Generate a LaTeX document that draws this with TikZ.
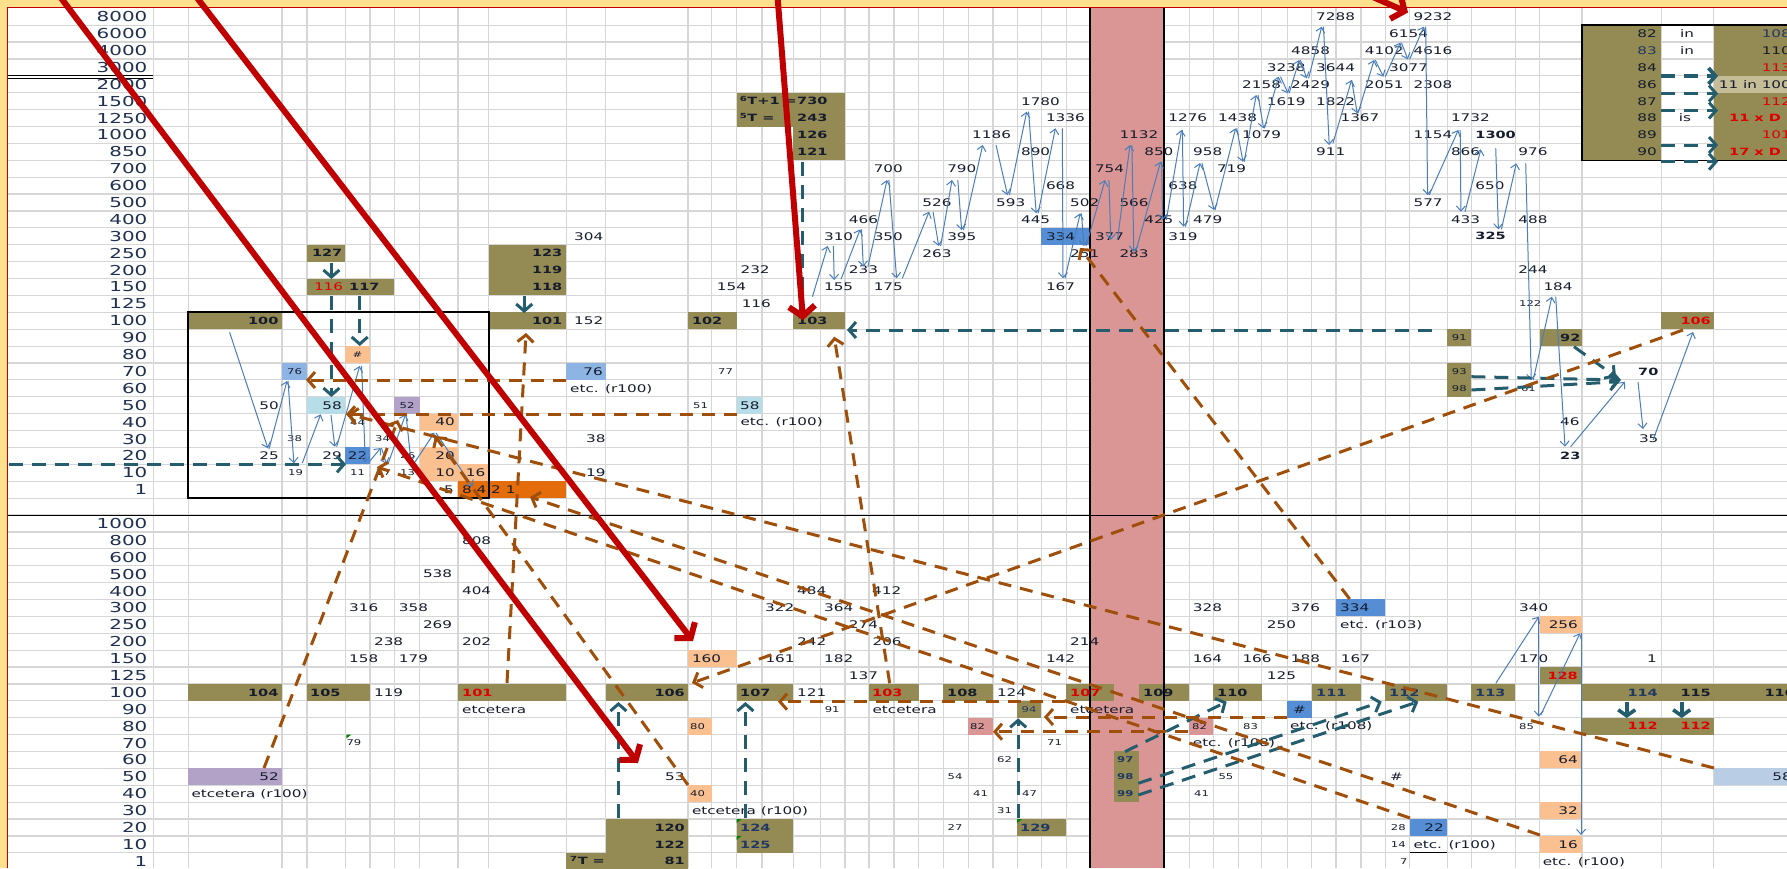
\documentclass[tikz,border=0pt]{standalone}
\usepackage{fontspec}
\setmainfont{DejaVu Sans}[FakeStretch=1.45]
\usetikzlibrary{arrows.meta}
\definecolor{cOl}{HTML}{948A54}
\definecolor{cLO}{HTML}{FAC090}
\definecolor{cLB}{HTML}{B7DEE8}
\definecolor{cMB}{HTML}{8DB4E2}
\definecolor{cSB}{HTML}{558ED5}
\definecolor{cPu}{HTML}{B3A2C7}
\definecolor{cDO}{HTML}{E46C0A}
\definecolor{cPk}{HTML}{DA9694}
\definecolor{cSt}{HTML}{B9CDE5}
\definecolor{cTan}{HTML}{C4BD97}
\definecolor{cGrid}{HTML}{D6D6D6}
\definecolor{cTxt}{HTML}{151C2C}
\definecolor{cLab}{HTML}{1F3050}
\definecolor{cRedT}{HTML}{E00000}
\definecolor{cNavy}{HTML}{1F3864}
\definecolor{cTeal}{HTML}{245D6E}
\definecolor{cBrown}{HTML}{A04F0A}
\definecolor{cBig}{HTML}{C00000}
\definecolor{cBlue}{HTML}{4A7EBB}
\definecolor{cYel}{HTML}{FFE08C}
\definecolor{cGreen}{HTML}{008000}
\newcommand\yC[1]{(16.75+16.89*(#1))}
\newcommand\yT[1]{(8.3+16.89*(#1))}
\tikzset{
  num/.style={font=\fontsize{10.5}{12}\selectfont, text=cTxt, inner sep=0pt, text height=7.6pt, text depth=0pt, anchor=west},
  numr/.style={num, anchor=east},
  numc/.style={num, anchor=center},
  sm/.style={num, font=\fontsize{8}{9}\selectfont, text height=5.8pt},
  smc/.style={sm, anchor=center},
  bld/.style={num, font=\fontsize{10}{12}\selectfont\bfseries, text height=7.3pt},
  bldr/.style={bld, anchor=east},
  lab/.style={num, font=\fontsize{13.7}{15}\selectfont, text height=10pt, anchor=east, text=cLab},
  bluearr/.style={draw=cBlue, line width=1pt, -{Straight Barb[length=5pt,width=9pt]}},
  tealarr/.style={draw=cTeal, line width=3pt, dash pattern=on 14pt off 9pt, -{Straight Barb[length=7pt,width=16pt]}},
  tealthick/.style={draw=cTeal, line width=3.6pt, -{Straight Barb[length=6pt,width=17pt]}},
  brownarr/.style={draw=cBrown, line width=3pt, dash pattern=on 13pt off 9pt, -{Straight Barb[length=7pt,width=16pt]}},
  bigarr/.style={draw=cBig, line width=6pt, -{Straight Barb[length=10pt,width=26pt]}},
}
\begin{document}
\begin{tikzpicture}[x=1pt,y=-1pt]
\useasboundingbox (0,0) rectangle (1787,868);
\clip (0,0) rectangle (1787,868);
\fill[white] (0,0) rectangle (1787,868);
% grid
\foreach \xx in {153.1,188.3,282,306.9,345.2,370,394.1,419.8,458.0,488.6,566.3,605.7,688,711.7,736.6,761.9,793.2,820.8,844.9,869,893.9,918.8,943.2,968.1,993,1017.1,1041.2,1066.1,1189.3,1213.1,1238.2,1261.8,1287.2,1311.6,1335.9,1361,1385.3,1409.6,1447.1,1471.4,1515.2,1539.5,1581.9,1661.2,1713.6}
  \draw[cGrid, line width=1.2pt] (\xx,8) -- (\xx,868);
\foreach \yy in {1,...,51}
  \draw[cGrid, line width=1.2pt] (8,{\yT{\yy}}) -- (1787,{\yT{\yy}});
% pink band
\fill[cPk] (1089.8,8) rectangle (1163.7,868);
% cells
\foreach \xa/\xb/\ra/\rb/\cc in {
306.9/345.2/14/15/cOl, 306.9/394.1/16/17/cOl, 488.6/566.3/14/17/cOl, 188.3/282/18/19/cOl, 488.6/566.3/18/19/cOl,
345.2/370/20/21/cLO, 282/306.9/21/22/cMB, 306.9/345.2/23/24/cLB, 394.1/419.8/23/24/cPu, 419.8/458/24/25/cLO,
345.2/370/26/27/cSB, 419.8/458/26/27/cLO, 419.8/458/27/28/cLO, 458/488.6/27/28/cLO, 458/566.3/28/29/cDO,
566.3/605.7/21/22/cMB, 688/736.6/18/19/cOl, 793.2/844.9/18/19/cOl, 736.6/844.9/5/7/cOl, 793.2/844.9/7/9/cOl,
736.6/761.9/23/24/cLB, 1041.2/1089.8/13/14/cSB, 1447.1/1471.4/19/20/cOl, 1447.1/1471.4/21/23/cOl,
1539.5/1581.9/19/20/cOl, 1661.2/1713.6/18/19/cOl, 1581.9/1661.2/1/9/cOl, 1713.6/1800/1/9/cOl, 1713.6/1800/4/5/cTan,
188.3/282/40/41/cOl, 306.9/370/40/41/cOl, 458/566.3/40/41/cOl, 188.3/282/45/46/cPu, 605.7/688/40/41/cOl,
688/736.6/38/39/cLO, 688/711.7/42/43/cLO, 688/711.7/46/47/cLO, 736.6/793.2/40/41/cOl, 869/918.8/40/41/cOl,
943.2/993/40/41/cOl, 1017.1/1041.2/41/42/cOl, 968.1/993/42/43/cPk, 1017.1/1066.1/48/49/cOl, 605.7/688/48/50/cOl,
566.3/688/50/52/cOl, 736.6/793.2/48/50/cOl, 1066.1/1113.5/40/41/cOl, 1139.3/1189.3/40/41/cOl, 1114/1139.3/44/47/cOl,
1189.3/1213.1/42/43/cPk, 1213.1/1261.8/40/41/cOl, 1287.2/1311.6/41/42/cSB, 1311.6/1361/40/41/cOl, 1385.3/1447.1/40/41/cOl,
1335.9/1385.3/35/36/cSB, 1409.6/1447.1/48/49/cSB, 1471.4/1515.2/40/41/cOl, 1539.5/1581.9/36/37/cLO, 1539.5/1581.9/39/40/cOl,
1539.5/1581.9/44/45/cLO, 1539.5/1581.9/47/48/cLO, 1539.5/1581.9/49/50/cLO, 1581.9/1800/40/41/cOl, 1581.9/1713.6/42/43/cOl,
1713.6/1800/45/46/cSt}
  \fill[fill=\cc] (\xa,{\yT{\ra}}) rectangle (\xb,{\yT{\rb}});
% black lines
\draw[black, line width=2pt] (1089.8,8) -- (1089.8,868) (1163.7,8) -- (1163.7,868);
\draw[black, line width=2pt] (188.3,{\yT{18}}) rectangle (488.6,{\yT{29}});
\draw[black, line width=1.5pt] (1581.9,{\yT{1}}) rectangle (1800,{\yT{9}});
\draw[black, line width=1pt] (8,515) -- (1787,515);
\draw[black, line width=0.9pt] (8,75.8) -- (153.1,75.8) (8,78.2) -- (153.1,78.2);
\draw[black, line width=1pt] (1409.6,{\yT{50}}) -- (1447.1,{\yT{50}});
% comment markers
\foreach \xx/\yy in {346.3/43, 736.6/48, 736.6/49, 1017.1/48}
  \fill[cGreen] (\xx,{\yT{\yy}}) -- ++(5,0) -- ++(-5,4) -- cycle;
% border
\fill[cYel] (0,0) rectangle (1787,6.5);
\fill[cYel] (0,0) rectangle (6.5,868);
\draw[cBig, line width=1.6pt] (7.3,868) -- (7.3,7.3) -- (1787,7.3);
% row labels
\foreach \tx [count=\i from 0] in {8000,6000,4000,3000,2000,1500,1250,1000,850,700,600,500,400,300,250,200,150,125,100,90,80,70,60,50,40,30,20,10,1}
  \node[lab] (lu\i) at (147.5,{\yC{\i}}) {\tx};
\foreach \tx [count=\i from 30] in {1000,800,600,500,400,300,250,200,150,125,100,90,80,70,60,50,40,30,20,10,1}
  \node[lab] (ll\i) at (147.5,{\yC{\i}}) {\tx};
% normal texts, left aligned
\foreach \xx/\yy/\tx [count=\i] in {
823.9/16/155, 873.6/16/175, 1045.8/16/167, 848.7/15/233, 922.2/14/263, 1070/14/251, 1119.3/14/283, 823.9/13/310, 873.6/13/350, 947.1/13/395, 1094.8/13/377, 1168.2/13/319, 848.7/12/466, 1020.9/12/445, 1144.1/12/425, 1193/12/479, 1450.8/12/433, 1518.2/12/488, 922.2/11/526, 996/11/593, 1070/11/502, 1119.3/11/566, 1413.4/11/577, 1045.8/10/668, 1168.2/10/638, 1475.2/10/650, 873.6/9/700, 947.1/9/790, 1094.8/9/754, 1216.8/9/719, 1020.9/8/890, 1144.1/8/850, 1193/8/958, 1316/8/911, 1450.8/8/866, 1518.2/8/976, 972/7/1186, 1119.3/7/1132, 1242/7/1079, 1413.4/7/1154, 1045.8/6/1336, 1168.2/6/1276, 1218/6/1438, 1340.4/6/1367, 1450.8/6/1732, 1020.9/5/1780, 1266.6/5/1619, 1316/5/1822, 1242/4/2158, 1291/4/2429, 1364.7/4/2051, 1413.4/4/2308, 1266.6/3/3238, 1316/3/3644, 1389/3/3077, 1291/2/4858, 1364.7/2/4102, 1413.4/2/4616, 1389/1/6154, 1316/0/7288, 1413.4/0/9232, 1518.2/15/244, 1543.3/16/184, 1560/24/46, 1638.8/25/35, 574/13/304, 574/18/152, 586/25/38, 586/27/19, 740.4/15/232, 716.7/16/154, 741.6/17/116, 570/22/etc. (r100), 740.4/24/etc. (r100), 740/23/58, 1045.8/13/334, 462/28/8 4 2 1,
461.9/31/808, 422.8/33/538, 461.9/34/404, 349/35/316, 398.7/35/358, 422.8/36/269, 373.9/37/238, 461.9/37/202, 349/38/158, 398.7/38/179, 373.9/40/119, 462/41/etcetera, 191.3/46/etcetera (r100), 665/45/53, 691.8/47/etcetera (r100), 797/34/484, 872/34/412, 765/35/322, 824/35/364, 848.7/36/274, 797/37/242, 872.4/37/206, 1070/37/214, 765.3/38/161, 824/38/182, 1045.8/38/142, 848.7/39/137, 797/40/121, 996.8/40/124, 872.4/41/etcetera, 1070/41/etcetera, 1192.7/35/328, 1290.7/35/376, 1266.7/36/250, 1340/36/etc. (r103), 1192.7/38/164, 1242.3/38/166, 1290.7/38/188, 1340.7/38/167, 1266.7/39/125, 1290/42/etc. (r108), 1192.7/43/etc. (r108), 1390/45/\#, 1413.3/49/etc. (r100), 1519/35/340, 1519/38/170, 1542.6/50/etc. (r100), 691.8/38/160, 1340/35/334}
  \node[num] (n\i) at (\xx,{\yC{\yy}}) {\tx};
% normal texts, right aligned
\foreach \xx/\yy/\tx [count=\i] in {
279/23/50, 279/26/25, 342/26/29, 454/28/5, 342/23/58, 455/24/40, 455/26/20, 455/27/10, 485.5/27/16, 603/21/76, 279/45/52, 1578/36/256, 1578/44/64, 1578/47/32, 1578/49/16, 1444/48/22, 1792/45/58, 1657/38/1, 1657/1/82, 1657/3/84, 1657/4/86, 1657/5/87, 1657/6/88, 1657/7/89, 1657/8/90, 1791/2/110, 1791/4/11 in 100}
  \node[numr] (r\i) at (\xx,{\yC{\yy}}) {\tx};
\foreach \xx/\yy/\tx [count=\i] in {1657/2/83, 1791/1/108}
  \node[numr, text=cNavy] (rn\i) at (\xx,{\yC{\yy}}) {\tx};
\foreach \xx/\yy/\tx [count=\i] in {1791/3/113, 1791/5/112, 1791/7/101}
  \node[numr, text=cRedT] (rr\i) at (\xx,{\yC{\yy}}) {\tx};
\foreach \xx/\yy/\tx [count=\i] in {1687/1/in, 1687/2/in, 1685/6/is, 357.6/26/22, 1299.4/41/\#}
  \node[numc] (c\i) at (\xx,{\yC{\yy}}) {\tx};
\node[num, text=cRedT] (red116) at (313.8,{\yC{16}}) {116};
% small texts
\foreach \xx/\yy/\tx [count=\i] in {
287/25/38, 288/27/19, 350/24/44, 350/27/11, 375/25/34, 376/27/17, 400/26/26, 400/27/13, 1519/17/122, 1520.8/22/61, 718/21/77, 693/23/51, 346.3/43/79, 824.6/41/91, 1047/43/71, 997/44/62, 947.5/45/54, 973/46/41, 1022/46/47, 997/47/31, 947.5/48/27, 1243/42/83, 1218.3/45/55, 1194/46/41, 1390.7/48/28, 1390.7/49/14, 1400/50/7, 1519/42/85, 690/42/80, 690/46/40, 970/42/82, 1192/42/82}
  \node[sm] (s\i) at (\xx,{\yC{\yy}}) {\tx};
\foreach \xx/\yy/\tx [count=\i] in {357.6/20/\#, 294.5/21/76, 407/23/52, 1459.3/19/91, 1459.3/21/93, 1459.3/22/98}
  \node[smc] (sc\i) at (\xx,{\yC{\yy}}) {\tx};
\node[smc, text=cNavy] (s94) at (1029,{\yC{41}}) {94};
\foreach \xx/\yy/\tx [count=\i] in {1117/44/97, 1117/45/98, 1117/46/99}
  \node[sm, font=\fontsize{8}{9}\selectfont\bfseries, text=cNavy] (sb\i) at (\xx,{\yC{\yy}}) {\tx};
% bold texts
\foreach \xx/\yy/\tx [count=\i] in {
349/16/117, 691.8/18/102, 797/18/103, 797/5/730, 797/6/243, 797/7/126, 797/8/121, 1560/19/92, 1475.2/7/1300, 1475.2/13/325, 1560/26/23, 1638/21/70, 310/40/105, 740/40/107, 947/40/108, 1143/40/109, 1217/40/110, 570/50/\textsuperscript{7}T =, 739.7/5/\textsuperscript{6}T+1 =, 739.7/6/\textsuperscript{5}T =}
  \node[bld] (b\i) at (\xx,{\yC{\yy}}) {\tx};
\foreach \xx/\yy/\tx [count=\i] in {
342.5/14/127, 562.5/14/123, 562.5/15/119, 562.5/16/118, 278.6/18/100, 562.5/18/101, 278.6/40/104, 685/40/106, 685/48/120, 685/49/122, 685/50/81, 1711/40/115, 1795/40/116}
  \node[bldr] (br\i) at (\xx,{\yC{\yy}}) {\tx};
\foreach \xx/\yy/\tx [count=\i] in {1316/40/111, 1389/40/112, 1475/40/113, 1020/48/129, 740/48/124, 740/49/125}
  \node[bld, text=cNavy] (bn\i) at (\xx,{\yC{\yy}}) {\tx};
\node[bldr, text=cNavy] (bn114) at (1658,{\yC{40}}) {114};
\foreach \xx/\yy/\tx [count=\i] in {462/40/101, 872/40/103, 1070/40/107, 1729/6/11 x D, 1729/8/17 x D}
  \node[bld, text=cRedT] (bred\i) at (\xx,{\yC{\yy}}) {\tx};
\foreach \xx/\yy/\tx [count=\i] in {1711/18/106, 1578/39/128, 1658/42/112, 1711/42/112}
  \node[bldr, text=cRedT] (brr\i) at (\xx,{\yC{\yy}}) {\tx};
% blue chain arrows
\foreach \ax/\ay/\bx/\by [count=\i] in {
229.6/332.3/267.9/448.3, 269/449/287/381, 288/381/293.9/463.3, 302.3/463/320.7/414.3, 331/415/334.8/446.7, 336.7/446.7/359.7/366, 361.6/366/365.4/462.7, 369/462/380.7/448, 381.5/448/386.5/464, 388/464/405.6/414.3, 406/414.3/411/462, 415/462/434.3/432.7, 436/433/472.6/486.7,
812.4/296.7/827.7/246, 833.4/246/834.2/280, 841/279.3/860.2/229.3, 861.5/229.3/863.3/266.7, 867.9/266.7/887/180, 888.9/180/896.6/278.3, 902.3/278.3/929.1/211.7, 933/211.7/938.7/246, 940.6/246/952/180, 957.8/180/961.6/230, 963.5/230/982.7/145, 996/145/1007.5/195, 1009.4/195/1026.7/111.7, 1028.6/111.7/1036.2/213.3, 1038.1/213.3/1055.4/128.3, 1062.3/128.3/1063/278.3, 1065/278.3/1080.2/213.3, 1081.4/213.3/1084/246, 1086/246/1105.1/180, 1108.9/180/1110.8/240, 1117.4/240/1130/145, 1131.9/145/1133.8/251.7, 1135.7/251.7/1160.6/161.7, 1161.7/161.7/1162.5/220, 1166.3/220/1181.6/130, 1182.4/130/1183.6/226.7, 1185.5/226.7/1200/163,
1201.9/163.3/1214.2/210, 1215/210/1235.6/128.3, 1236.7/128.3/1243/161.7, 1244.2/161.7/1256.2/95, 1258/95/1263.6/128.3, 1264.4/128.3/1278.6/76.7, 1280.5/76.7/1288/93.3, 1289.1/93.3/1299.2/60, 1300.3/60/1306.7/78.3, 1308.6/78.3/1321.7/26.7, 1323.5/26.7/1329.2/145, 1332.9/143.3/1351.6/80, 1351.6/80/1357.2/113.3, 1358/113.3/1374.1/60, 1375.2/60/1383.4/76.7, 1385.3/76.7/1400.3/42.7, 1401.4/42.7/1407.8/59.3, 1409.6/59.3/1423.9/26.7, 1425.7/26.7/1427.6/195, 1429.1/195/1458.3/130, 1460.2/130/1460.9/211.7, 1465/211.7/1480.8/149.3, 1495.7/148.3/1498.4/229.3, 1501.4/229.3/1516.3/163.3, 1525.7/163.3/1531.3/380, 1533.2/380/1551.9/296.7, 1555.7/296.7/1565/446.7, 1570.6/446.7/1624.9/381.7, 1638/382/1643/429, 1653/440/1693/332,
1495.8/683.3/1538.8/616.7, 1538.8/616.7/1538.8/716.7, 1540.7/715/1580/633.3, 1581/633.3/1581/835}
  {\coordinate (ba\i) at (\ax,\ay); \coordinate (bb\i) at (\bx,\by); \draw[bluearr] (ba\i) -- (bb\i);}
% teal dashed arrows
\foreach \ax/\ay/\bx/\by [count=\i] in {
331.4/262.5/331.4/279, 331.4/296/331.4/397, 359.7/296/359.7/346, 524.2/296/524.2/313, 9/464.3/346/464.3, 1432/330/847/330, 1471.4/376.7/1621/380, 1471.4/390/1619/381.7, 1574/346.7/1616/377, 618.4/818/618.4/702, 745.4/818/745.4/702, 1018.2/818/1018.2/718.3, 1125/751.7/1226.7/701.7, 1138.3/783.3/1381.7/701.7, 1138.3/795/1418.3/701.7, 1661/93.5/1718/93.5, 1661/110.5/1718/110.5, 1661/145/1718/145, 1661/161.7/1718/161.7}
  {\coordinate (ta\i) at (\ax,\ay); \coordinate (tb\i) at (\bx,\by); \draw[tealarr] (ta\i) -- (tb\i);}
\coordinate (t121) at (802,162); \coordinate (t103) at (802,313);
\draw[tealarr, -] (t121) -- (t103);
\coordinate (tl84a) at (1661,76); \coordinate (tl84b) at (1718,76);
\draw[tealarr, line width=3.8pt] (tl84a) -- (tl84b);
\foreach \ax/\ay/\bx/\by [count=\i] in {1626.7/702/1626.7/718, 1681.7/702/1681.7/718}
  {\coordinate (tk\i) at (\ax,\ay); \coordinate (tke\i) at (\bx,\by); \draw[tealthick] (tk\i) -- (tke\i);}
% brown dashed arrows
\foreach \ax/\ay/\bx/\by [count=\i] in {
1714/768/348/414, 1540/835/530/497, 1410/818/377/467, 688/785/435/436, 1683/330/692/683, 889.7/683.3/834.2/336.7, 507/683/526/333, 264/768/398/420, 1349.7/599/1080/248, 566/380/306/380, 736.6/414.3/346/414.3, 1065/701.7/778/701.7, 1287/717/1044/717, 1188/731.7/993/731.7}
  {\coordinate (wa\i) at (\ax,\ay); \coordinate (wb\i) at (\bx,\by); \draw[brownarr] (wa\i) -- (wb\i);}
% big red arrows
\foreach \ax/\ay/\bx/\by [count=\i] in {55/-10/638/763, 191/-10/693/641, 777/-10/803/320, 1357/-10/1408/12.5}
  {\coordinate (ra\i) at (\ax,\ay); \coordinate (rb\i) at (\bx,\by); \draw[bigarr] (ra\i) -- (rb\i);}
\end{tikzpicture}
\end{document}
